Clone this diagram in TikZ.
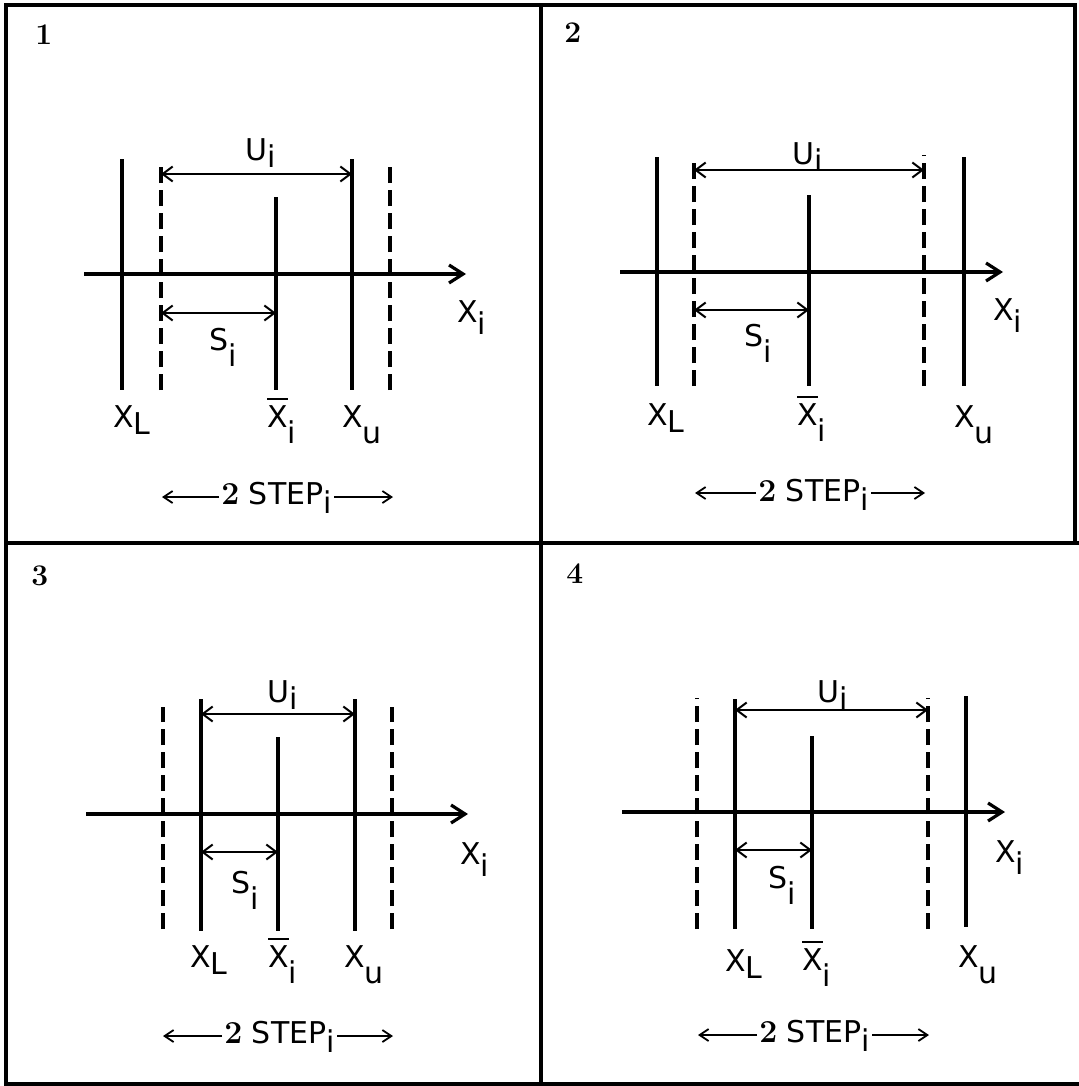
\documentclass[tikz,border=0pt]{standalone}
\usepackage{fontspec}
\usetikzlibrary{arrows.meta}
\newfontfamily\labfont{DejaVu Sans}
\newcommand\lowr[2]{\raisebox{-#1}{#2}}
\newcommand\xbr{\leavevmode\rlap{\raisebox{13.5pt}{\rule{0.68em}{1pt}}}X}
\newcommand\twob{{\rmfamily\bfseries\fontsize{16}{16}\selectfont 2}}
\tikzset{
  framepath/.style={line width=2pt, line cap=rect},
  solidln/.style={line width=1.6pt},
  dashln/.style={line width=1.6pt, dash pattern=on 8pt off 3.5pt},
  axisln/.style={line width=2pt, -{Straight Barb[length=7pt,width=9pt,line width=1.6pt]}},
  dimarr/.style={line width=1pt, {Straight Barb[length=5pt,width=7.5pt]}-{Straight Barb[length=5pt,width=7.5pt]}},
  steparr/.style={line width=0.9pt, -{Straight Barb[length=4.5pt,width=6pt]}},
  lab/.style={font=\labfont\fontsize{15}{15}\selectfont, inner sep=0pt, anchor=base west},
  steplab/.style={font=\labfont\fontsize{15}{15}\selectfont, inner sep=0pt, inner xsep=1pt, anchor=base west},
  numlab/.style={font=\rmfamily\bfseries\fontsize{15}{15}\selectfont, inner sep=0pt, anchor=base west}
}
\begin{document}
\begin{tikzpicture}[x=0.5pt,y=-0.5pt]
\useasboundingbox (0,0) rectangle (1078,1086);
% frame
\draw[framepath] (1075,543) -- (1075,5) -- (6,5) -- (6,1084) -- (1078,1084);
\draw[framepath] (541,5) -- (541,1084);
\draw[framepath] (6,543) -- (1078,543);

% ---------------- Panel 1 ----------------
\node[numlab] (p1n) at (35,45) {1};
\draw[solidln] (122,159) -- (122,390);
\draw[dashln] (161,390) -- (161,165);
\draw[solidln] (276,197) -- (276,390);
\draw[solidln] (352,159) -- (352,390);
\draw[dashln] (390,390) -- (390,165);
\coordinate (p1a0) at (84,274); \coordinate (p1a1) at (466,274);
\draw[axisln] (p1a0) -- (p1a1);
\coordinate (p1u0) at (161,174); \coordinate (p1u1) at (352,174);
\draw[dimarr] (p1u0) -- (p1u1);
\coordinate (p1s0) at (161,313); \coordinate (p1s1) at (276,313);
\draw[dimarr] (p1s0) -- (p1s1);
\node[lab] (p1U) at (245,160) {U\lowr{3.5pt}{i}};
\node[lab] (p1S) at (209,350) {S\lowr{8pt}{i}};
\node[lab] (p1X) at (457,322) {X\lowr{6pt}{i}};
\node[lab] (p1XL) at (113,427) {X\lowr{3.8pt}{L}};
\node[lab] (p1Xb) at (267,427) {\xbr\lowr{8pt}{i}};
\node[lab] (p1Xu) at (342,427) {X\lowr{8pt}{u}};
\node[steplab] (p1st) at (219,504) {\twob\ STEP\lowr{4.5pt}{i}};
\coordinate (p1sl) at (162,497); \coordinate (p1sr) at (393,497);
\draw[steparr] (p1st.west |- p1sl) -- (p1sl);
\draw[steparr] (p1st.east |- p1sr) -- (p1sr);

% ---------------- Panel 2 ----------------
\node[numlab] (p2n) at (564,43) {2};
\draw[solidln] (657,157) -- (657,386);
\draw[dashln] (694,386) -- (694,162);
\draw[solidln] (809,195) -- (809,386);
\draw[dashln] (924,386) -- (924,155);
\draw[solidln] (964,157) -- (964,386);
\coordinate (p2a0) at (620,272); \coordinate (p2a1) at (1003,272);
\draw[axisln] (p2a0) -- (p2a1);
\coordinate (p2u0) at (694,170); \coordinate (p2u1) at (924,170);
\draw[dimarr] (p2u0) -- (p2u1);
\coordinate (p2s0) at (694,310); \coordinate (p2s1) at (809,310);
\draw[dimarr] (p2s0) -- (p2s1);
\node[lab] (p2U) at (792,164) {U\lowr{3.5pt}{i}};
\node[lab] (p2S) at (744,346) {S\lowr{8pt}{i}};
\node[lab] (p2X) at (993,320) {X\lowr{6pt}{i}};
\node[lab] (p2XL) at (647,425) {X\lowr{3.8pt}{L}};
\node[lab] (p2Xb) at (797,425) {\xbr\lowr{8pt}{i}};
\node[lab] (p2Xu) at (954,427) {X\lowr{8pt}{u}};
\node[steplab] (p2st) at (756,501) {\twob\ STEP\lowr{4.5pt}{i}};
\coordinate (p2sl) at (695,493); \coordinate (p2sr) at (925,493);
\draw[steparr] (p2st.west |- p2sl) -- (p2sl);
\draw[steparr] (p2st.east |- p2sr) -- (p2sr);

% ---------------- Panel 3 ----------------
\node[numlab] (p3n) at (31,585) {3};
\draw[dashln] (163,929) -- (163,707);
\draw[solidln] (201,699) -- (201,931);
\draw[solidln] (278,737) -- (278,931);
\draw[solidln] (355,699) -- (355,931);
\draw[dashln] (392,929) -- (392,707);
\coordinate (p3a0) at (86,814); \coordinate (p3a1) at (468,814);
\draw[axisln] (p3a0) -- (p3a1);
\coordinate (p3u0) at (201,714); \coordinate (p3u1) at (355,714);
\draw[dimarr] (p3u0) -- (p3u1);
\coordinate (p3s0) at (201,852); \coordinate (p3s1) at (278,852);
\draw[dimarr] (p3s0) -- (p3s1);
\node[lab] (p3U) at (267,702) {U\lowr{3.5pt}{i}};
\node[lab] (p3S) at (231,893) {S\lowr{8pt}{i}};
\node[lab] (p3X) at (460,864) {X\lowr{6pt}{i}};
\node[lab] (p3XL) at (190,967) {X\lowr{3.8pt}{L}};
\node[lab] (p3Xb) at (268,967) {\xbr\lowr{8pt}{i}};
\node[lab] (p3Xu) at (344,967) {X\lowr{8pt}{u}};
\node[steplab] (p3st) at (222,1043) {\twob\ STEP\lowr{4.5pt}{i}};
\coordinate (p3sl) at (163,1036); \coordinate (p3sr) at (393,1036);
\draw[steparr] (p3st.west |- p3sl) -- (p3sl);
\draw[steparr] (p3st.east |- p3sr) -- (p3sr);

% ---------------- Panel 4 ----------------
\node[numlab] (p4n) at (566,583) {4};
\draw[dashln] (697,929) -- (697,698);
\draw[solidln] (735,699) -- (735,929);
\draw[solidln] (812,736) -- (812,929);
\draw[dashln] (928,929) -- (928,698);
\draw[solidln] (966,696) -- (966,927);
\coordinate (p4a0) at (622,812); \coordinate (p4a1) at (1005,812);
\draw[axisln] (p4a0) -- (p4a1);
\coordinate (p4u0) at (735,710); \coordinate (p4u1) at (928,710);
\draw[dimarr] (p4u0) -- (p4u1);
\coordinate (p4s0) at (735,850); \coordinate (p4s1) at (812,850);
\draw[dimarr] (p4s0) -- (p4s1);
\node[lab] (p4U) at (817,702) {U\lowr{3.5pt}{i}};
\node[lab] (p4S) at (768,888) {S\lowr{8pt}{i}};
\node[lab] (p4X) at (995,862) {X\lowr{6pt}{i}};
\node[lab] (p4XL) at (725,971) {X\lowr{3.8pt}{L}};
\node[lab] (p4Xb) at (802,970) {\xbr\lowr{8pt}{i}};
\node[lab] (p4Xu) at (958,967) {X\lowr{8pt}{u}};
\node[steplab] (p4st) at (757,1042) {\twob\ STEP\lowr{4.5pt}{i}};
\coordinate (p4sl) at (698,1035); \coordinate (p4sr) at (929,1035);
\draw[steparr] (p4st.west |- p4sl) -- (p4sl);
\draw[steparr] (p4st.east |- p4sr) -- (p4sr);
\end{tikzpicture}
\end{document}
